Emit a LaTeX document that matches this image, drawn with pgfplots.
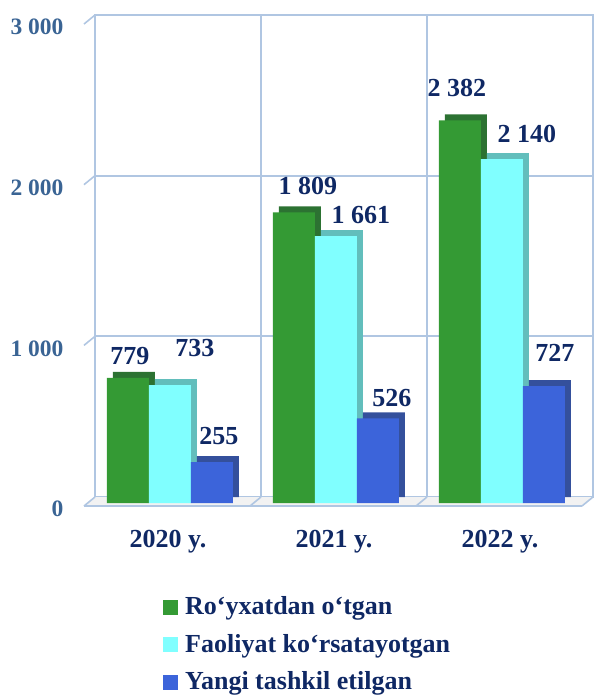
\documentclass[border=0pt]{standalone}
\usepackage{fontspec}
\setmainfont{Liberation Serif}
\usepackage{pgfplots}
\usepackage{pgfplotstable}
\pgfplotsset{compat=1.18}
\definecolor{cgreen}{HTML}{349A34}
\definecolor{cgreenD}{HTML}{2C7232}
\definecolor{ccyan}{HTML}{80FFFF}
\definecolor{ccyanD}{HTML}{62BEBC}
\definecolor{cblue}{HTML}{3C64DA}
\definecolor{cblueD}{HTML}{34509C}
\definecolor{gridc}{HTML}{B0C6E2}
\definecolor{tickc}{HTML}{3A6494}
\definecolor{navy}{HTML}{0F2864}

\pgfplotstableread{
x y dx dy lab
0 779 2 22 779
1 1809 14 26 1~809
2 2382 -3 32 2~382
}\tgreen
\pgfplotstableread{
x y dx dy lab
0 733 25 37 733
1 1661 25 21 1~661
2 2140 25 25 2~140
}\tcyan
\pgfplotstableread{
x y dx dy lab
0 255 7 26 255
1 526 14 20 526
2 727 11 33 727
}\tblue

\begin{document}
\begin{tikzpicture}
\useasboundingbox (0,0) rectangle (594pt,697pt);
\begin{axis}[
  at={(95pt,200pt)}, anchor=south west,
  scale only axis, width=498pt, height=482pt,
  xmin=-0.5, xmax=2.5, ymin=0, ymax=3000,
  clip=false,
  axis line style={draw=gridc, line width=2pt},
  xtick={0,1,2}, xticklabels={2020 y.,2021 y.,2022 y.},
  ytick={0,1000,2000,3000}, yticklabels={0,1~000,2~000,3~000},
  major tick length=0pt,
  ymajorgrids, grid style={draw=gridc, line width=2pt},
  extra x ticks={0.5,1.5}, extra x tick labels={},
  extra x tick style={xmajorgrids=true, major tick length=0pt},
  xticklabel style={font=\bfseries\fontsize{26}{30}\selectfont, text=navy, anchor=center, yshift=-45pt, xshift=-10pt},
  yticklabel style={font=\bfseries\fontsize{23.5}{28}\selectfont, text=tickc, anchor=east, xshift=-28pt, yshift=-12pt},
  legend image code/.code={\fill[#1] (0pt,-8pt) rectangle (15pt,7pt);},
  legend style={draw=none, fill=none, inner sep=0pt,
    at={(axis description cs:0.1365,-0.2065)}, anchor=north west,
    row sep=18pt, column sep=7pt,
    nodes={inner sep=0pt, font=\bfseries\fontsize{26}{30}\selectfont, text=navy},
    cells={anchor=west}},
  legend cell align=left,
  bar width=42pt,
]
% floor
\fill[gray!10] (axis cs:-0.5,0) -- (axis cs:2.5,0) -- ([xshift=-11pt,yshift=-9pt]axis cs:2.5,0) -- ([xshift=-11pt,yshift=-9pt]axis cs:-0.5,0) -- cycle;
\draw[gridc, line width=1.6pt] ([xshift=-11pt,yshift=-9pt]axis cs:-0.5,0) -- ([xshift=-11pt,yshift=-9pt]axis cs:2.5,0);
\pgfplotsinvokeforeach{0,1000,2000,3000}{
  \draw[gridc, line width=1.6pt] (axis cs:-0.5,#1) -- ++(-11pt,-9pt);
}
\pgfplotsinvokeforeach{0.5,1.5,2.5}{
  \draw[gridc, line width=1.6pt] (axis cs:#1,0) -- ++(-11pt,-9pt);
}

% green
\addplot[ybar, bar shift=-42pt, fill=cgreenD, draw=none, xshift=-2pt, forget plot] table[x=x,y=y]{\tgreen};
\addplot[ybar, bar shift=-42pt, fill=cgreen, draw=none, xshift=-8pt, yshift=-6pt, forget plot,
  visualization depends on={\thisrow{dx} \as \dx},
  visualization depends on={\thisrow{dy} \as \dy},
  point meta=explicit symbolic,
  nodes near coords,
  nodes near coords style={anchor=center, xshift=\dx pt - 42pt, yshift=\dy pt, font=\bfseries\fontsize{26}{30}\selectfont, text=navy}
] table[x=x,y=y,meta=lab]{\tgreen};
% cyan
\addplot[ybar, bar shift=0pt, fill=ccyanD, draw=none, xshift=-2pt, forget plot] table[x=x,y=y]{\tcyan};
\addplot[ybar, bar shift=0pt, fill=ccyan, draw=none, xshift=-8pt, yshift=-6pt, forget plot,
  visualization depends on={\thisrow{dx} \as \dx},
  visualization depends on={\thisrow{dy} \as \dy},
  point meta=explicit symbolic,
  nodes near coords,
  nodes near coords style={anchor=center, xshift=\dx pt, yshift=\dy pt, font=\bfseries\fontsize{26}{30}\selectfont, text=navy}
] table[x=x,y=y,meta=lab]{\tcyan};
% blue
\addplot[ybar, bar shift=42pt, fill=cblueD, draw=none, xshift=-2pt, forget plot] table[x=x,y=y]{\tblue};
\addplot[ybar, bar shift=42pt, fill=cblue, draw=none, xshift=-8pt, yshift=-6pt, forget plot,
  visualization depends on={\thisrow{dx} \as \dx},
  visualization depends on={\thisrow{dy} \as \dy},
  point meta=explicit symbolic,
  nodes near coords,
  nodes near coords style={anchor=center, xshift=\dx pt + 42pt, yshift=\dy pt, font=\bfseries\fontsize{26}{30}\selectfont, text=navy}
] table[x=x,y=y,meta=lab]{\tblue};

\addlegendimage{fill=cgreen, draw=none}
\addlegendentry{Ro‘yxatdan o‘tgan}
\addlegendimage{fill=ccyan, draw=none}
\addlegendentry{Faoliyat ko‘rsatayotgan}
\addlegendimage{fill=cblue, draw=none}
\addlegendentry{Yangi tashkil etilgan}
\end{axis}
\end{tikzpicture}
\end{document}
